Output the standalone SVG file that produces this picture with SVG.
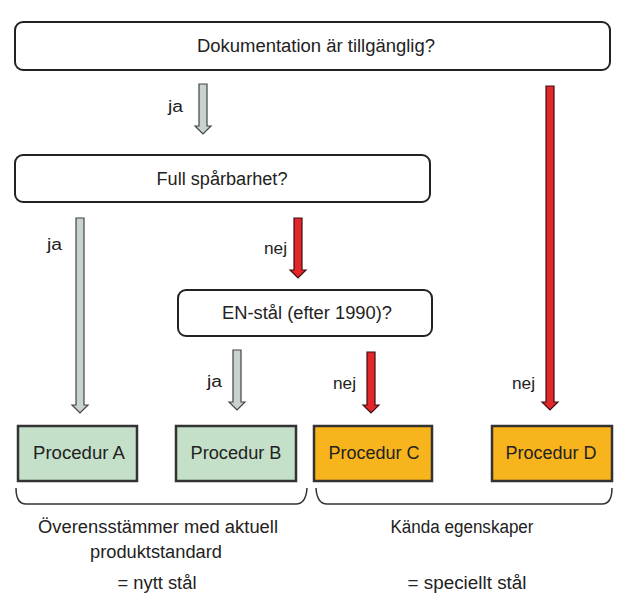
<svg xmlns="http://www.w3.org/2000/svg" width="618" height="595" viewBox="0 0 618 595">
<style>
text{font-family:"Liberation Sans",Arial,sans-serif;font-size:18px;fill:#222;text-anchor:middle}
.q{fill:#fff;stroke:#222;stroke-width:2}
.g{fill:#c5e0c9;stroke:#333;stroke-width:2.5}
.o{fill:#f7b41c;stroke:#333;stroke-width:2.5}
.ag{fill:#c9d3ce;stroke:#444;stroke-width:1.2}
.ar{fill:#e3262a;stroke:#3a1010;stroke-width:1.2}
.br{fill:none;stroke:#333;stroke-width:1.5}
.l{text-anchor:start;font-size:16px}
</style>
<rect width="618" height="595" fill="#fff"/>
<g id="q1"><rect class="q" x="15" y="22" width="595" height="48" rx="8"/><text x="316" y="52" textLength="238" lengthAdjust="spacingAndGlyphs">Dokumentation är tillgänglig?</text></g>
<g id="q2"><rect class="q" x="15" y="155" width="415" height="47" rx="8"/><text x="222" y="185" textLength="131" lengthAdjust="spacingAndGlyphs">Full spårbarhet?</text></g>
<g id="q3"><rect class="q" x="178" y="290" width="254" height="46" rx="8"/><text x="307" y="319" textLength="170" lengthAdjust="spacingAndGlyphs">EN-stål (efter 1990)?</text></g>
<g id="pa"><rect class="g" x="18" y="426" width="119" height="55"/><text x="79" y="459" textLength="92" lengthAdjust="spacingAndGlyphs">Procedur A</text></g>
<g id="pb"><rect class="g" x="176" y="426" width="120" height="55"/><text x="236" y="459" textLength="91" lengthAdjust="spacingAndGlyphs">Procedur B</text></g>
<g id="pc"><rect class="o" x="314" y="426" width="118" height="55"/><text x="374" y="459" textLength="91" lengthAdjust="spacingAndGlyphs">Procedur C</text></g>
<g id="pd"><rect class="o" x="492" y="426" width="120" height="55"/><text x="551" y="459" textLength="91" lengthAdjust="spacingAndGlyphs">Procedur D</text></g>
<g id="connectors">
<path class="ag" d="M199,84 h8 v42 h4 l-8,8 l-8,-8 h4 z"/>
<path class="ar" d="M546,86 h8 v316 h4 l-8,8 l-8,-8 h4 z"/>
<path class="ag" d="M76,218 h8 v187 h4 l-8,8 l-8,-8 h4 z"/>
<path class="ar" d="M294,218 h8 v52 h4 l-8,8 l-8,-8 h4 z"/>
<path class="ag" d="M233,350 h8 v52 h4 l-8,8 l-8,-8 h4 z"/>
<path class="ar" d="M367,352 h8 v53 h4 l-8,8 l-8,-8 h4 z"/>
</g>
<text class="l" x="168" y="112" textLength="15" lengthAdjust="spacingAndGlyphs">ja</text>
<text class="l" x="47" y="250" textLength="15" lengthAdjust="spacingAndGlyphs">ja</text>
<text class="l" x="264" y="254" textLength="23" lengthAdjust="spacingAndGlyphs">nej</text>
<text class="l" x="207" y="387" textLength="15" lengthAdjust="spacingAndGlyphs">ja</text>
<text class="l" x="333" y="389" textLength="23" lengthAdjust="spacingAndGlyphs">nej</text>
<text class="l" x="512" y="389" textLength="23" lengthAdjust="spacingAndGlyphs">nej</text>
<g id="braces">
<path class="br" d="M16,488 Q16,504 26,504 H296 Q306,504 307,488"/>
<path class="br" d="M316,488 Q317,504 327,504 H602 Q612,504 612,488"/>
</g>
<text x="158" y="533" textLength="240" lengthAdjust="spacingAndGlyphs">Överensstämmer med aktuell</text>
<text x="156" y="558" textLength="132" lengthAdjust="spacingAndGlyphs">produktstandard</text>
<text x="157" y="589" textLength="79" lengthAdjust="spacingAndGlyphs">= nytt stål</text>
<text x="462" y="533" textLength="143" lengthAdjust="spacingAndGlyphs">Kända egenskaper</text>
<text x="467" y="589" textLength="119" lengthAdjust="spacingAndGlyphs">= speciellt stål</text>
</svg>
